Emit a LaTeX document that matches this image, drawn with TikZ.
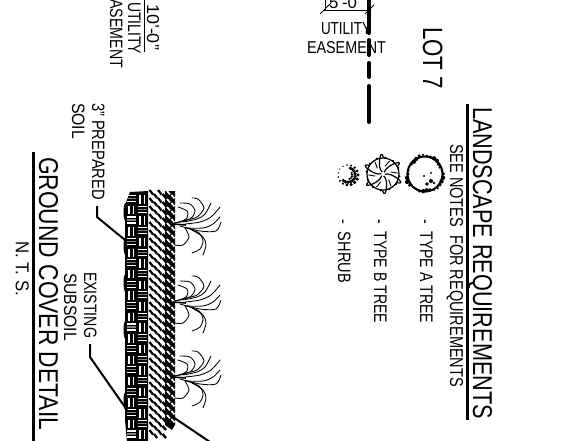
\documentclass[tikz,border=0pt]{standalone}
\usepackage{graphicx}
\usepackage{fontspec}
\setmainfont{Liberation Sans}
\newcommand{\rotlabel}[6]{\node (#1) [lbl,rotate=-90] at (#2,#3) {\resizebox{#4pt}{#5pt}{#6}};}
\newcommand{\horlabel}[6]{\node (#1) [lbl] at (#2,#3) {\resizebox{#4pt}{#5pt}{#6}};}
\tikzset{
  lbl/.style={inner sep=0pt,outer sep=0pt,anchor=base west,text=black},
  heavyrule/.style={line width=3pt},
  thinrule/.style={line width=1pt},
  leaderline/.style={line width=2pt,line join=round},
  proprty/.style={line width=4pt,line cap=round},
  rootline/.style={line width=.85pt,line cap=round},
  rootplant/.pic={
    \draw[rootline] plot[smooth] coordinates {(0,-2) (11,-5) (22,-8) (29,-17) (23,-26) (17,-27)};
    \draw[rootline] plot[smooth] coordinates {(0,-2) (15,-6) (20,-14) (15,-21) (5,-22)};
    \draw[rootline] plot[smooth] coordinates {(5,-3) (12,-7) (12,-14) (3,-18)};
    \draw[rootline] plot[smooth] coordinates {(8,-3) (22,-6) (30,-11) (36,-22)};
    \draw[rootline] plot[smooth] coordinates {(10,-1) (25,-3) (36,-8) (45,-18)};
    \draw[rootline] plot[smooth] coordinates {(5,1) (25,6) (41,6) (46,-3)};
    \draw[rootline] plot[smooth] coordinates {(10,3) (28,3) (38,-1) (45,-8)};
    \draw[rootline] plot[smooth] coordinates {(12,3) (24,8) (28,16) (25,24) (17,28)};
    \draw[rootline] plot[smooth] coordinates {(17,5) (28,12) (31,20) (28,30)};
    \draw[rootline] plot[smooth] coordinates {(10,3) (14,12) (8,20) (0,20)};
    \draw[line width=1.6pt] (-2,-1) -- (11,0);
  }
}
\begin{document}
\begin{tikzpicture}[x=1pt,y=-1pt]
\clip (0,0) rectangle (570,440);
\fill[white] (0,0) rectangle (570,440);

% Landscape legend
\rotlabel{landscape}{473}{107}{312}{19}{LANDSCAPE REQUIREMENTS}
\coordinate (ra) at (467,104); \coordinate (rb) at (467,420);
\draw[heavyrule] (ra) -- (rb);
\rotlabel{seenotes}{450}{144}{243}{13}{SEE NOTES\ \ FOR REQUIREMENTS}
\rotlabel{typea}{420}{219}{104}{12.5}{-\ \ TYPE A TREE}
\rotlabel{typeb}{374}{219}{104}{12.5}{-\ \ TYPE B TREE}
\rotlabel{shrub}{338}{219}{64}{12.5}{-\ \ SHRUB}
\rotlabel{lotseven}{423}{27}{62}{19.5}{LOT 7}

% Type A tree symbol
\draw[line width=2pt] (425,174) circle (17.5);
\foreach \a in {0,12,...,348}{
  \pgfmathsetmacro\rr{17.8+1.1*sin(3*\a)+.7*cos(7*\a)}
  \fill[black] (425,174) ++({\rr*cos(\a)},{\rr*sin(\a)}) circle ({1.7+.5*sin(5*\a)});
}
\fill[black] (431,181) circle (2) (427,184) circle (1.8) (424,176) circle (1.1) (431,173) circle (1.1) (434,183) circle (1.4);

% Type B tree symbol
\foreach \a in {0,30,...,330}{
  \fill[black] (383,174) ++({16.5*cos(\a+8)},{16.5*sin(\a+8)}) circle (1.2);
}
\draw[line width=1.2pt] (383,174) circle (16);
\foreach \a in {10,70,...,310}{
  \draw[line width=1.2pt] (383,174) ++({2*cos(\a)},{2*sin(\a)}) .. controls ++({7*cos(\a-35)},{7*sin(\a-35)}) and ++({12*cos(\a+5)},{12*sin(\a+5)}) .. ++({14.5*cos(\a+25)},{14.5*sin(\a+25)});
  \draw[line width=.9pt] (383,174) ++({8*cos(\a+35)},{8*sin(\a+35)}) -- ++({7*cos(\a+60)},{7*sin(\a+60)});
}

% Shrub symbol
\foreach \a in {0,24,...,336}{
  \fill[black] (348,175) ++({10*cos(\a)},{10*sin(\a)}) circle ({.7+.55*(1+cos(\a-35))});
}
\foreach \a in {-70,-50,...,130}{
  \fill[black] (348,175) ++({7.2*cos(\a)},{7.2*sin(\a)}) circle (1.8);
}
\foreach \a in {-30,-5,...,90}{
  \fill[black] (348,175) ++({4.2*cos(\a)},{4.2*sin(\a)}) circle (1.2);
}

% Easement at top
\coordinate (pa) at (369,-3); \coordinate (pb) at (369,33);
\coordinate (pc) at (369,40); \coordinate (pd) at (369,55);
\coordinate (pe) at (369,63); \coordinate (pf) at (369,77);
\coordinate (pg) at (369,86); \coordinate (ph) at (369,122);
\draw[proprty] (pa) -- (pb);
\draw[proprty] (pc) -- (pd);
\draw[proprty] (pe) -- (pf);
\draw[proprty] (pg) -- (ph);
\coordinate (da) at (323,10); \coordinate (db) at (369,10);
\coordinate (dc) at (325,-2); \coordinate (dd) at (325,10);
\coordinate (ta) at (320,14); \coordinate (tb) at (331,3);
\coordinate (tc) at (365,14); \coordinate (td) at (374,5);
\draw[thinrule] (da) -- (db);
\draw[thinrule] (dc) -- (dd);
\draw[thinrule] (ta) -- (tb);
\draw[thinrule] (tc) -- (td);
\horlabel{fiveft}{329}{8}{28}{12}{5'-0}
\horlabel{utilone}{321}{34}{50}{12}{UTILITY}
\horlabel{easeone}{307}{53}{79}{12}{EASEMENT}

% Easement left
\rotlabel{tenft}{147}{4}{46}{12}{10'-0"}
\coordinate (ua) at (144,-2); \coordinate (ub) at (144,52);
\draw[thinrule] (ua) -- (ub);
\rotlabel{utiltwo}{128}{2}{52}{12.5}{UTILITY}
\rotlabel{easetwo}{110}{-10}{78}{12.5}{EASEMENT}

% Ground cover labels
\rotlabel{prepared}{92}{103}{97}{12.5}{3" PREPARED}
\rotlabel{soil}{72}{103}{36}{12.5}{SOIL}
\rotlabel{existing}{84}{272}{66}{12.5}{EXISTING}
\rotlabel{subsoil}{64}{273}{68}{12.5}{SUBSOIL}
\rotlabel{groundcover}{39}{157}{273}{19}{GROUND COVER DETAIL}
\coordinate (ga) at (33,152); \coordinate (gb) at (33,442);
\draw[heavyrule] (ga) -- (gb);
\rotlabel{nts}{16}{241}{55}{13}{N. T. S.}

% Woven layer
\fill[black] (130,192) -- (148,191) -- (148,442) -- (127,442) -- (125,420) -- (125,205) -- cycle;
\foreach \p in {212,246,283,330,401}{
  \fill[black] (125.5,\p) ellipse (2 and 9);
}
\foreach \i in {0,...,23}{
  \pgfmathsetmacro\yy{194+\i*10.7}
  \foreach \c in {0,1}{
    \pgfmathsetmacro\xx{126+\c*11}
    \pgfmathtruncatemacro\odd{mod(\i+\c,2)}
    \ifnum\odd=0
      \draw[white,line width=1.1pt] (\xx+1,\yy+1.6) -- ++(9,0);
      \draw[white,line width=1.1pt] (\xx+1,\yy+7.6) -- ++(9,0);
      \draw[gray,line width=1.1pt] (\xx+1,\yy+4.6) -- ++(9,0);
    \else
      \draw[white,line width=1.1pt] (\xx+3,\yy+1) -- ++(0,8.5);
      \draw[white,line width=1.1pt] (\xx+7.5,\yy+1) -- ++(0,8.5);
    \fi
  }
}

% Hatched layer
\fill[black] (165,191) -- (175,191) -- (175,425) -- (172,430) -- (165,425) -- cycle;
\foreach \j in {0,...,30}{
  \pgfmathsetmacro\yy{190+\j*8}
  \foreach \d in {149.5,158}{
    \draw[line width=2.2pt] (\d,\yy) -- ++(3.6,4.6);
  }
  \draw[line width=2.2pt] (154,\yy+4) -- ++(3.2,4);
  \draw[line width=2.4pt] (162.5,\yy+4) -- ++(3.5,4);
  \ifdim\yy pt<422pt
    \draw[white,line width=1.7pt] (167,\yy+1) -- ++(3,3.4);
    \draw[white,line width=1.7pt] (171.5,\yy+5) -- ++(3,3.4);
  \fi
}

% Leaders
\coordinate (la) at (97,206); \coordinate (lb) at (97,217); \coordinate (lc) at (125,240);
\draw[leaderline] (la) -- (lb) -- (lc);
\coordinate (le) at (90,344); \coordinate (lf) at (90,357); \coordinate (lg) at (127,410);
\draw[leaderline] (le) -- (lf) -- (lg);
\coordinate (lh) at (173,417); \coordinate (li) at (210,442);
\draw[leaderline] (lh) -- (li);

% Plants
\pic at (175,225) {rootplant};
\pic at (175,303) {rootplant};
\pic at (175,378) {rootplant};
\end{tikzpicture}
\end{document}
